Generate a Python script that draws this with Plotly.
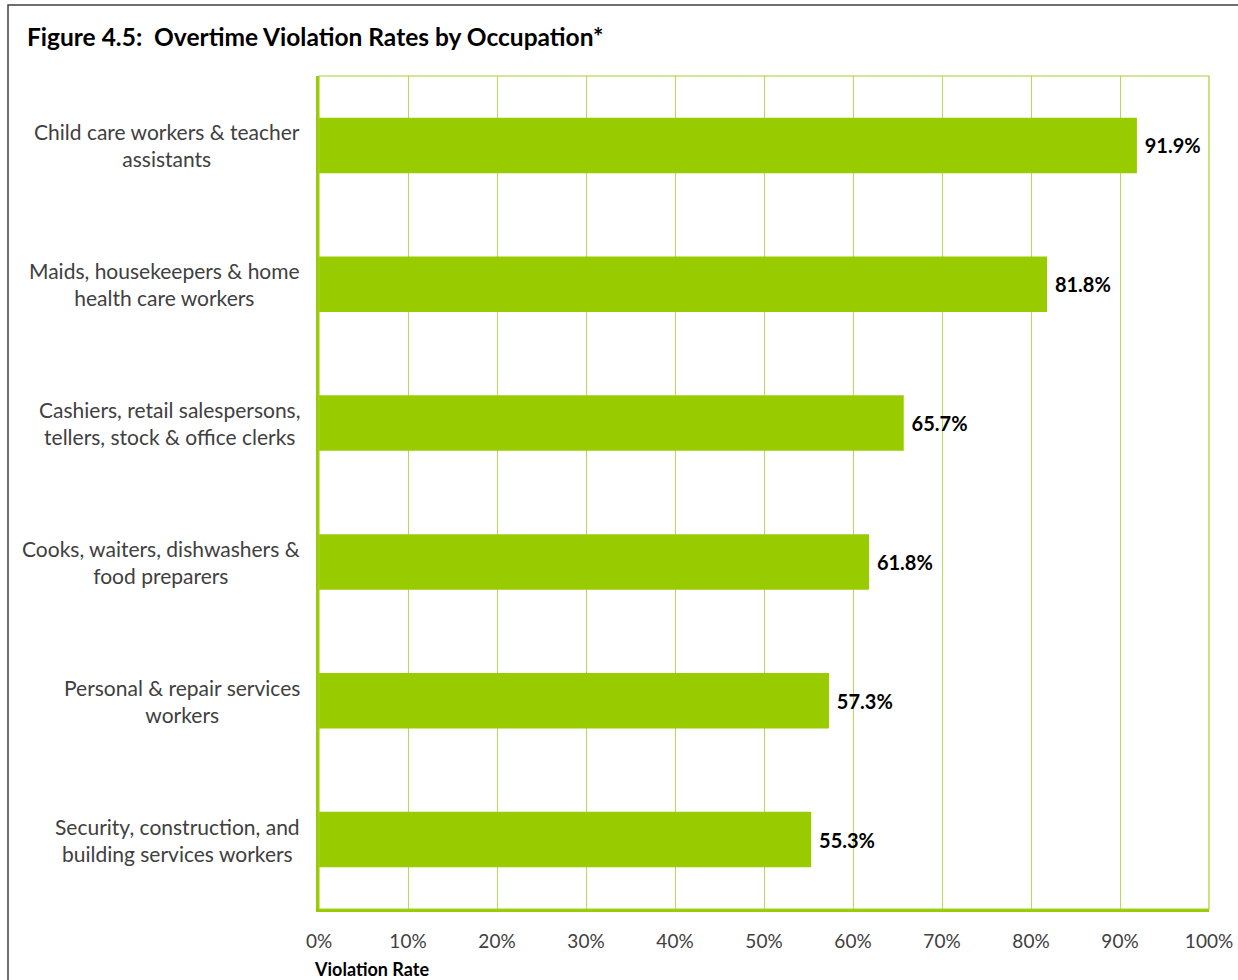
import plotly.graph_objects as go

occupations = [
    "Child care workers & teacher<br>assistants",
    "Maids, housekeepers & home<br>health care workers",
    "Cashiers, retail salespersons,<br>tellers, stock & office clerks",
    "Cooks, waiters, dishwashers &<br>food preparers",
    "Personal & repair services<br>workers",
    "Security, construction, and<br>building services workers",
]
violation_rates = [91.9, 81.8, 65.7, 61.8, 57.3, 55.3]
x_ticks = [0, 10, 20, 30, 40, 50, 60, 70, 80, 90, 100]
x_tick_labels = [f"{t}%" for t in x_ticks]

W, H = 1238, 980
ML, MR, MT, MB = 319, 29, 76, 71
PW, PH = W - ML - MR, H - MT - MB

GREEN = "#99CC00"
FONT = "Lato, 'Open Sans', sans-serif"

fig = go.Figure()
fig.add_trace(go.Bar(
    x=violation_rates,
    y=list(range(len(occupations))),
    orientation="h",
    width=0.4,
    marker=dict(color=GREEN, line=dict(width=0)),
    text=[f" {v:.1f}%" for v in violation_rates],
    textposition="outside",
    textfont=dict(family=FONT, size=20, color="#000000", weight="bold"),
    cliponaxis=False,
    hoverinfo="skip",
))

# category labels, centred lines right-aligned against the plot edge
for i, label in enumerate(occupations):
    fig.add_annotation(
        x=0, xref="paper", y=i, yref="y",
        text=label, showarrow=False,
        xanchor="right", yanchor="middle", align="center",
        xshift=-17,
        font=dict(family=FONT, size=21, color="#404040"),
    )

# axis title below the tick labels
fig.add_annotation(
    x=(312 - ML) / PW, xref="paper", y=-(969 - (H - MB)) / PH, yref="paper",
    text="<b>Violation Rate</b>", showarrow=False,
    xanchor="left", yanchor="middle",
    font=dict(family=FONT, size=18, color="#000000"),
)

# thin frame around the plot area
fig.add_shape(type="rect", xref="paper", yref="paper", x0=0, x1=1, y0=0, y1=1,
              line=dict(color="#A6D12A", width=1.2), layer="above")

# outer chart border
fig.add_shape(type="rect", xref="paper", yref="paper",
              x0=(8 - ML) / PW, x1=(W + 5 - ML) / PW,
              y0=-(MB + 10) / PH, y1=(PH + MT - 5) / PH,
              line=dict(color="#404040", width=1.5))

fig.update_layout(
    width=W, height=H,
    margin=dict(l=ML, r=MR, t=MT, b=MB, pad=0, autoexpand=False),
    paper_bgcolor="white", plot_bgcolor="white",
    showlegend=False,
    title=dict(
        text="<b>Figure 4.5:  Overtime Violation Rates by Occupation*</b>",
        xref="container", yref="container",
        x=27 / W, y=1 - 37 / H, xanchor="left", yanchor="middle",
        font=dict(family=FONT, size=24.5, color="#000000"),
    ),
    xaxis=dict(
        range=[0, 100], tickvals=x_ticks, ticktext=x_tick_labels,
        showgrid=True, gridcolor="#B5DA55", gridwidth=1,
        showline=True, linecolor=GREEN, linewidth=3,
        zeroline=False, ticks="", ticklabelstandoff=13,
        tickfont=dict(family=FONT, size=19, color="#404040"),
        automargin=False, fixedrange=True,
    ),
    yaxis=dict(
        range=[5.5, -0.5], showticklabels=False, showgrid=False,
        showline=True, linecolor=GREEN, linewidth=3,
        zeroline=False, ticks="", automargin=False, fixedrange=True,
    ),
)

fig.write_html("out.html")
